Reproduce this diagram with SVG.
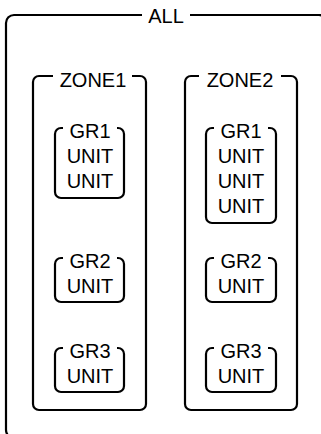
<svg xmlns="http://www.w3.org/2000/svg" width="321" height="434" viewBox="0 0 321 434">
<style>
.box{fill:none;stroke:#000;stroke-width:2.2}
.gap{fill:#fff;stroke:none}
text{font-family:"Liberation Sans",Arial,sans-serif;font-size:20px;fill:#000;text-anchor:middle}
</style>
<rect x="0" y="0" width="321" height="434" fill="#fff"/>
<g id="connectors"/>
<g id="all">
<rect class="box" x="6" y="15" width="321" height="423" rx="8"/>
<rect class="gap" x="142" y="5" width="48" height="20"/>
<text x="166" y="23">ALL</text>
</g>
<g id="zone1">
<rect class="box" x="33" y="76" width="113" height="334" rx="6"/>
<rect class="gap" x="53" y="66" width="79" height="20"/>
<text x="93" y="87">ZONE1</text>
</g>
<g id="zone2">
<rect class="box" x="185" y="76" width="112" height="334" rx="6"/>
<rect class="gap" x="199" y="66" width="82" height="20"/>
<text x="240" y="87">ZONE2</text>
</g>
<g id="z1gr1">
<rect class="box" x="55" y="128" width="69" height="70" rx="6"/>
<rect class="gap" x="63" y="118" width="54" height="20"/>
<text x="90" y="138">GR1</text>
<text x="90" y="163">UNIT</text>
<text x="90" y="188">UNIT</text>
</g>
<g id="z1gr2">
<rect class="box" x="55" y="258" width="69" height="44" rx="6"/>
<rect class="gap" x="63" y="248" width="54" height="20"/>
<text x="90" y="268">GR2</text>
<text x="90" y="293">UNIT</text>
</g>
<g id="z1gr3">
<rect class="box" x="55" y="348" width="69" height="44" rx="6"/>
<rect class="gap" x="63" y="338" width="54" height="20"/>
<text x="90" y="358">GR3</text>
<text x="90" y="383">UNIT</text>
</g>
<g id="z2gr1">
<rect class="box" x="206" y="128" width="70" height="95" rx="6"/>
<rect class="gap" x="214" y="118" width="54" height="20"/>
<text x="241" y="138">GR1</text>
<text x="241" y="163">UNIT</text>
<text x="241" y="188">UNIT</text>
<text x="241" y="213">UNIT</text>
</g>
<g id="z2gr2">
<rect class="box" x="206" y="258" width="70" height="44" rx="6"/>
<rect class="gap" x="214" y="248" width="54" height="20"/>
<text x="241" y="268">GR2</text>
<text x="241" y="293">UNIT</text>
</g>
<g id="z2gr3">
<rect class="box" x="206" y="348" width="70" height="44" rx="6"/>
<rect class="gap" x="214" y="338" width="54" height="20"/>
<text x="241" y="358">GR3</text>
<text x="241" y="383">UNIT</text>
</g>
</svg>
